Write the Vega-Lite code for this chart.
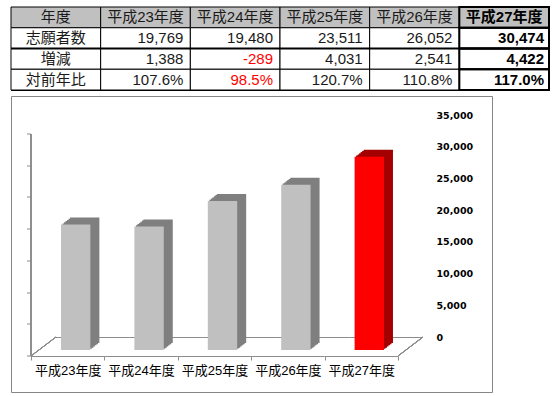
{
  "$schema": "https://vega.github.io/schema/vega-lite/v6.json",
  "background": "white",
  "padding": {"left": 7, "top": 5, "right": 0, "bottom": 0},
  "spacing": 3,
  "datasets": {
    "chart": [
      {"年度": "平成23年度", "志願者数": 19769},
      {"年度": "平成24年度", "志願者数": 19480},
      {"年度": "平成25年度", "志願者数": 23511},
      {"年度": "平成26年度", "志願者数": 26052},
      {"年度": "平成27年度", "志願者数": 30474}
    ],
    "table": [
      {"行": "年度", "列": "項目", "表示": "年度"},
      {"行": "年度", "列": "平成23年度", "表示": "平成23年度"},
      {"行": "年度", "列": "平成24年度", "表示": "平成24年度"},
      {"行": "年度", "列": "平成25年度", "表示": "平成25年度"},
      {"行": "年度", "列": "平成26年度", "表示": "平成26年度"},
      {"行": "年度", "列": "平成27年度", "表示": "平成27年度"},
      {"行": "志願者数", "列": "項目", "表示": "志願者数"},
      {"行": "志願者数", "列": "平成23年度", "表示": "19,769", "値": 19769},
      {"行": "志願者数", "列": "平成24年度", "表示": "19,480", "値": 19480},
      {"行": "志願者数", "列": "平成25年度", "表示": "23,511", "値": 23511},
      {"行": "志願者数", "列": "平成26年度", "表示": "26,052", "値": 26052},
      {"行": "志願者数", "列": "平成27年度", "表示": "30,474", "値": 30474},
      {"行": "増減", "列": "項目", "表示": "増減"},
      {"行": "増減", "列": "平成23年度", "表示": "1,388", "値": 1388},
      {"行": "増減", "列": "平成24年度", "表示": "-289", "値": -289},
      {"行": "増減", "列": "平成25年度", "表示": "4,031", "値": 4031},
      {"行": "増減", "列": "平成26年度", "表示": "2,541", "値": 2541},
      {"行": "増減", "列": "平成27年度", "表示": "4,422", "値": 4422},
      {"行": "対前年比", "列": "項目", "表示": "対前年比"},
      {"行": "対前年比", "列": "平成23年度", "表示": "107.6%", "値": 107.6},
      {"行": "対前年比", "列": "平成24年度", "表示": "98.5%", "値": 98.5},
      {"行": "対前年比", "列": "平成25年度", "表示": "120.7%", "値": 120.7},
      {"行": "対前年比", "列": "平成26年度", "表示": "110.8%", "値": 110.8},
      {"行": "対前年比", "列": "平成27年度", "表示": "117.0%", "値": 117.0}
    ]
  },
  "vconcat": [
    {
      "width": 538,
      "height": 83,
      "data": {"name": "table"},
      "view": {"stroke": "#000000", "strokeWidth": 1},
      "layer": [
        {
          "mark": {"type": "rect", "stroke": "#000000", "strokeWidth": 1},
          "encoding": {
            "x": {"field": "列", "type": "nominal", "axis": null, "scale": {"domain": ["項目", "平成23年度", "平成24年度", "平成25年度", "平成26年度", "平成27年度"], "paddingInner": 0, "paddingOuter": 0}},
            "y": {"field": "行", "type": "nominal", "axis": null, "scale": {"domain": ["年度", "志願者数", "増減", "対前年比"], "paddingInner": 0, "paddingOuter": 0}},
            "fill": {"condition": {"test": "datum['行'] === '年度'", "value": "#c0c0c0"}, "value": "#ffffff"}
          }
        },
        {
          "transform": [{"filter": "datum['行'] === '増減' && datum['列'] === '項目'"}],
          "mark": {"type": "rule", "stroke": "#000000", "strokeWidth": 2},
          "encoding": {
            "y": {"field": "行", "type": "nominal", "bandPosition": 0, "axis": null}
          }
        },
        {
          "transform": [{"filter": "datum['列'] === '平成27年度'"}],
          "mark": {"type": "rect", "fillOpacity": 0, "stroke": "#000000", "strokeWidth": 2},
          "encoding": {
            "x": {"field": "列", "type": "nominal", "axis": null},
            "y": {"field": "行", "type": "nominal", "axis": null}
          }
        },
        {
          "transform": [{"filter": "datum['列'] !== '平成27年度' && (datum['行'] === '年度' || datum['列'] === '項目')"}],
          "mark": {"type": "text", "font": "Liberation Sans, Noto Sans CJK JP, sans-serif", "fontSize": 15, "color": "#1a1a1a", "align": "center", "baseline": "middle"},
          "encoding": {
            "x": {"field": "列", "type": "nominal", "axis": null},
            "y": {"field": "行", "type": "nominal", "axis": null},
            "text": {"field": "表示"}
          }
        },
        {
          "transform": [{"filter": "datum['列'] === '平成27年度' && datum['行'] === '年度'"}],
          "mark": {"type": "text", "font": "Liberation Sans, Noto Sans CJK JP, sans-serif", "fontSize": 15, "fontWeight": "bold", "color": "#000000", "align": "center", "baseline": "middle"},
          "encoding": {
            "x": {"field": "列", "type": "nominal", "axis": null},
            "y": {"field": "行", "type": "nominal", "axis": null},
            "text": {"field": "表示"}
          }
        },
        {
          "transform": [{"filter": "datum['列'] !== '平成27年度' && datum['列'] !== '項目' && datum['行'] !== '年度'"}],
          "mark": {"type": "text", "font": "Liberation Sans, Noto Sans CJK JP, sans-serif", "fontSize": 15, "align": "right", "baseline": "middle", "dx": -7},
          "encoding": {
            "x": {"field": "列", "type": "nominal", "bandPosition": 1, "axis": null},
            "y": {"field": "行", "type": "nominal", "axis": null},
            "text": {"field": "表示"},
            "color": {"condition": {"test": "datum['値'] < 0 || (datum['行'] === '対前年比' && datum['値'] < 100)", "value": "#ff0000"}, "value": "#1a1a1a"}
          }
        },
        {
          "transform": [{"filter": "datum['列'] === '平成27年度' && datum['行'] !== '年度'"}],
          "mark": {"type": "text", "font": "Liberation Sans, Noto Sans CJK JP, sans-serif", "fontSize": 15, "fontWeight": "bold", "color": "#000000", "align": "right", "baseline": "middle", "dx": -5},
          "encoding": {
            "x": {"field": "列", "type": "nominal", "bandPosition": 1, "axis": null},
            "y": {"field": "行", "type": "nominal", "axis": null},
            "text": {"field": "表示"}
          }
        }
      ]
    },
    {
      "width": 481,
      "height": 296,
      "data": {"name": "chart"},
      "view": {"stroke": "#868686", "strokeWidth": 1},
      "resolve": {"axis": {"x": "independent", "y": "independent"}},
      "layer": [
        {
          "mark": {"type": "bar", "color": "#8c8c8c", "y2Offset": 1},
          "encoding": {
            "x": {"field": "年度", "type": "nominal", "axis": null, "scale": {"domain": ["平成23年度", "平成24年度", "平成25年度", "平成26年度", "平成27年度"], "paddingInner": 0, "paddingOuter": 0.7766, "align": 0.3947}},
            "y": {"datum": 0, "type": "quantitative", "axis": null, "scale": {"domain": [-8671, 37996], "nice": false, "zero": false}},
            "y2": {"datum": 0}
          }
        },
        {
          "mark": {"type": "bar", "color": "#8c8c8c", "xOffset": -25, "x2Offset": -25, "yOffset": 19, "y2Offset": 20},
          "encoding": {
            "x": {"field": "年度", "type": "nominal", "axis": null},
            "y": {"datum": 0, "type": "quantitative", "axis": null},
            "y2": {"datum": 0}
          }
        },
        {
          "mark": {"type": "rule", "color": "#8c8c8c", "x2Offset": -25, "y2Offset": 19},
          "encoding": {
            "x": {"datum": "平成23年度", "type": "nominal", "bandPosition": 0, "axis": null},
            "x2": {"datum": "平成23年度", "bandPosition": 0},
            "y": {"datum": 0, "type": "quantitative", "axis": null},
            "y2": {"datum": 0}
          }
        },
        {
          "mark": {"type": "rule", "color": "#8c8c8c", "x2Offset": -25, "y2Offset": 19},
          "encoding": {
            "x": {"datum": "平成27年度", "type": "nominal", "bandPosition": 1, "axis": null},
            "x2": {"datum": "平成27年度", "bandPosition": 1},
            "y": {"datum": 0, "type": "quantitative", "axis": null},
            "y2": {"datum": 0}
          }
        },
        {
          "mark": {"type": "rule", "color": "#8c8c8c", "xOffset": -25, "yOffset": 19, "y2Offset": 19},
          "encoding": {
            "x": {"datum": "平成23年度", "type": "nominal", "bandPosition": 0, "axis": null},
            "y": {"datum": 0, "type": "quantitative", "axis": {"orient": "left", "values": [0, 5000, 10000, 15000, 20000, 25000, 30000, 35000], "labels": false, "domain": false, "ticks": true, "tickSize": 4, "tickColor": "#8c8c8c", "grid": false, "offset": -1, "translate": 19, "title": null, "minExtent": 0, "maxExtent": 0}},
            "y2": {"datum": 35000}
          }
        },
        {
          "mark": {"type": "bar", "width": {"band": 0.4}, "xOffset": -15.5, "x2Offset": -15.5, "yOffset": 11.83, "y2Offset": 11.83},
          "encoding": {
            "x": {"field": "年度", "type": "nominal", "axis": null},
            "y": {"field": "志願者数", "type": "quantitative", "axis": null},
            "y2": {"datum": 0},
            "color": {"condition": {"test": "datum['年度'] === '平成27年度'", "value": "#a50000"}, "value": "#7f7f7f"}
          }
        },
        {
          "mark": {"type": "bar", "width": {"band": 0.4}, "xOffset": -14, "x2Offset": -14, "yOffset": 10.67, "y2Offset": 10.67},
          "encoding": {
            "x": {"field": "年度", "type": "nominal", "axis": null},
            "y": {"field": "志願者数", "type": "quantitative", "axis": null},
            "y2": {"datum": 0},
            "color": {"condition": {"test": "datum['年度'] === '平成27年度'", "value": "#a50000"}, "value": "#7f7f7f"}
          }
        },
        {
          "mark": {"type": "bar", "width": {"band": 0.4}, "xOffset": -12.5, "x2Offset": -12.5, "yOffset": 9.5, "y2Offset": 9.5},
          "encoding": {
            "x": {"field": "年度", "type": "nominal", "axis": null},
            "y": {"field": "志願者数", "type": "quantitative", "axis": null},
            "y2": {"datum": 0},
            "color": {"condition": {"test": "datum['年度'] === '平成27年度'", "value": "#a50000"}, "value": "#7f7f7f"}
          }
        },
        {
          "mark": {"type": "bar", "width": {"band": 0.4}, "xOffset": -11, "x2Offset": -11, "yOffset": 8.33, "y2Offset": 8.33},
          "encoding": {
            "x": {"field": "年度", "type": "nominal", "axis": null},
            "y": {"field": "志願者数", "type": "quantitative", "axis": null},
            "y2": {"datum": 0},
            "color": {"condition": {"test": "datum['年度'] === '平成27年度'", "value": "#a50000"}, "value": "#7f7f7f"}
          }
        },
        {
          "mark": {"type": "bar", "width": {"band": 0.4}, "xOffset": -9.5, "x2Offset": -9.5, "yOffset": 7.17, "y2Offset": 7.17},
          "encoding": {
            "x": {"field": "年度", "type": "nominal", "axis": null},
            "y": {"field": "志願者数", "type": "quantitative", "axis": null},
            "y2": {"datum": 0},
            "color": {"condition": {"test": "datum['年度'] === '平成27年度'", "value": "#a50000"}, "value": "#7f7f7f"}
          }
        },
        {
          "mark": {"type": "bar", "width": {"band": 0.4}, "xOffset": -8, "x2Offset": -8, "yOffset": 6, "y2Offset": 6},
          "encoding": {
            "x": {"field": "年度", "type": "nominal", "axis": null},
            "y": {"field": "志願者数", "type": "quantitative", "axis": null},
            "y2": {"datum": 0},
            "color": {"condition": {"test": "datum['年度'] === '平成27年度'", "value": "#a50000"}, "value": "#7f7f7f"}
          }
        },
        {
          "mark": {"type": "bar", "width": {"band": 0.4}, "xOffset": -17, "x2Offset": -17, "yOffset": 13, "y2Offset": 13},
          "encoding": {
            "x": {"field": "年度", "type": "nominal", "axis": {"orient": "bottom", "offset": -11, "translate": -24.5, "domain": false, "ticks": true, "tickBand": "extent", "tickSize": 4, "tickColor": "#8c8c8c", "labelPadding": 4, "labelFont": "Liberation Sans, Noto Sans CJK JP, sans-serif", "labelFontSize": 13, "labelColor": "#000000", "labelAngle": 0, "labelOverlap": false, "title": null, "minExtent": 0, "maxExtent": 0}},
            "y": {"field": "志願者数", "type": "quantitative", "axis": {"orient": "right", "values": [0, 5000, 10000, 15000, 20000, 25000, 30000, 35000], "format": ",.0f", "domain": false, "ticks": false, "tickSize": 0, "grid": false, "offset": -56, "labelPadding": 0, "labelAlign": "left", "labelBaseline": "middle", "labelFont": "DejaVu Sans", "labelFontWeight": "bold", "labelFontSize": 9.5, "labelColor": "#000000", "title": null, "minExtent": 0, "maxExtent": 0}},
            "y2": {"datum": 0},
            "color": {"condition": {"test": "datum['年度'] === '平成27年度'", "value": "#ff0000"}, "value": "#c0c0c0"}
          }
        }
      ]
    }
  ],
  "config": {
    "view": {"stroke": null},
    "axis": {"minExtent": 0}
  }
}
